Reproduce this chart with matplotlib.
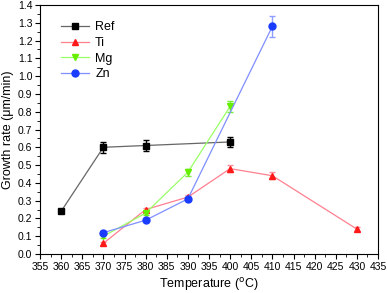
import matplotlib
matplotlib.use("Agg")
import matplotlib.pyplot as plt
from matplotlib.ticker import MultipleLocator

ref_x = [360, 370, 380, 400]
ref_y = [0.24, 0.60, 0.61, 0.63]
ref_err = [0.0, 0.03, 0.03, 0.03]

ti_x = [370, 380, 390, 400, 410, 430]
ti_y = [0.06, 0.25, 0.32, 0.48, 0.44, 0.14]
ti_err = [0.01, 0.01, 0.01, 0.02, 0.02, 0.01]

mg_x = [370, 380, 390, 400]
mg_y = [0.10, 0.23, 0.46, 0.83]
mg_err = [0.01, 0.01, 0.02, 0.03]

zn_x = [370, 380, 390, 410]
zn_y = [0.12, 0.19, 0.31, 1.28]
zn_err = [0.01, 0.01, 0.01, 0.06]

plt.rcParams['font.family'] = ['Liberation Sans', 'DejaVu Sans']

fig = plt.figure(figsize=(3.87, 2.93), dpi=100)
ax = fig.add_axes([40 / 387, 39 / 293, 338 / 387, 249 / 293])

series = [
    ("Ref", ref_x, ref_y, ref_err, "s", "black", "#666666", "black"),
    ("Ti", ti_x, ti_y, ti_err, "^", "#ff1a1a", "#ff7f8f", "#ff8f9f"),
    ("Mg", mg_x, mg_y, mg_err, "v", "#66ee00", "#99ff66", "#77ee33"),
    ("Zn", zn_x, zn_y, zn_err, "o", "#1a3cff", "#7f8fff", "#8f9fff"),
]
for name, x, y, e, m, mc, lc, ec in series:
    ax.errorbar(x, y, yerr=e, fmt="none", ecolor=ec, elinewidth=1, capsize=2.5, capthick=1)
    ax.plot(x, y, color=lc, lw=0.9, marker=m, markersize=5,
            markerfacecolor=mc, markeredgecolor=mc, label=name)

ax.set_xlim(355, 435)
ax.set_ylim(0, 1.4)
ax.xaxis.set_major_locator(MultipleLocator(5))
ax.xaxis.set_minor_locator(MultipleLocator(2.5))
ax.yaxis.set_major_locator(MultipleLocator(0.1))
ax.yaxis.set_minor_locator(MultipleLocator(0.05))
ax.tick_params(which="both", direction="out", labelsize=7.5, pad=2)
ax.tick_params(which="major", length=3.5)
ax.tick_params(which="minor", length=2)
ax.set_xlabel("Temperature ($^{\\rm o}$C)", fontsize=9, labelpad=3)
ax.set_ylabel("Growth rate (\u03bcm/min)", fontsize=9, labelpad=3)
ax.legend(loc="upper left", bbox_to_anchor=(0.03, 0.98), frameon=False,
          fontsize=9, handlelength=2.2, labelspacing=0.3, handletextpad=0.5)

fig.savefig("out.png", dpi=100)
